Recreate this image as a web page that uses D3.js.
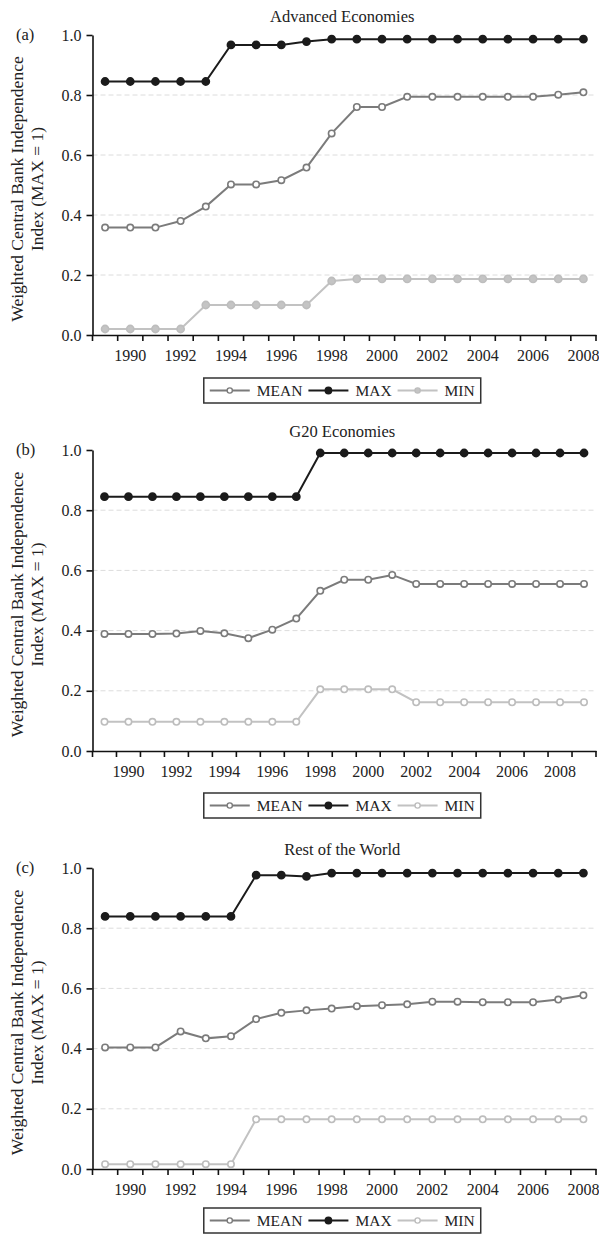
<!DOCTYPE html>
<html>
<head>
<meta charset="utf-8">
<script src="https://cdn.jsdelivr.net/npm/d3@7"></script>
<style>
  body { margin: 0; background: #fff; }
  svg { display: block; font-family: "Liberation Serif", "DejaVu Serif", serif; }
</style>
</head>
<body>
<script>
// Data
var yearsA = [1989,1990,1991,1992,1993,1994,1995,1996,1997,1998,1999,2000,2001,2002,2003,2004,2005,2006,2007,2008];
var yearsB = [1989,1990,1991,1992,1993,1994,1995,1996,1997,1998,1999,2000,2001,2002,2003,2004,2005,2006,2007,2008,2009];
var yearsC = [1989,1990,1991,1992,1993,1994,1995,1996,1997,1998,1999,2000,2001,2002,2003,2004,2005,2006,2007,2008];

var advMean = [0.358,0.358,0.358,0.380,0.428,0.502,0.502,0.516,0.558,0.672,0.760,0.760,0.794,0.794,0.794,0.794,0.794,0.794,0.801,0.809];
var advMax  = [0.845,0.845,0.845,0.845,0.845,0.967,0.967,0.967,0.978,0.986,0.986,0.986,0.986,0.986,0.986,0.986,0.986,0.986,0.986,0.986];
var advMin  = [0.020,0.020,0.020,0.020,0.100,0.100,0.100,0.100,0.100,0.180,0.187,0.187,0.187,0.187,0.187,0.187,0.187,0.187,0.187,0.187];

var g20Mean = [0.389,0.389,0.389,0.390,0.399,0.391,0.375,0.403,0.440,0.532,0.569,0.569,0.585,0.555,0.555,0.555,0.555,0.555,0.555,0.555,0.555];
var g20Max  = [0.845,0.845,0.845,0.845,0.845,0.845,0.845,0.845,0.845,0.990,0.990,0.990,0.990,0.990,0.990,0.990,0.990,0.990,0.990,0.990,0.990];
var g20Min  = [0.097,0.097,0.097,0.097,0.097,0.097,0.097,0.097,0.097,0.205,0.205,0.205,0.205,0.162,0.162,0.162,0.162,0.162,0.162,0.162,0.162];

var rowMean = [0.404,0.404,0.404,0.457,0.434,0.441,0.498,0.519,0.527,0.533,0.541,0.544,0.547,0.556,0.556,0.554,0.554,0.554,0.563,0.577];
var rowMax  = [0.839,0.839,0.839,0.839,0.839,0.839,0.976,0.976,0.972,0.983,0.983,0.983,0.983,0.983,0.983,0.983,0.983,0.983,0.983,0.983];
var rowMin  = [0.016,0.016,0.016,0.016,0.016,0.016,0.165,0.165,0.165,0.165,0.165,0.165,0.165,0.165,0.165,0.165,0.165,0.165,0.165,0.165];

var yTicks = [0, 0.2, 0.4, 0.6, 0.8, 1.0];
var gridTicks = [0.2, 0.4, 0.6, 0.8];
var seriesNames = ["MEAN", "MAX", "MIN"];
var panelTitles = ["Advanced Economies", "G20 Economies", "Rest of the World"];
var panelLetters = ["(a)", "(b)", "(c)"];
var yLabelLines = ["Weighted Central Bank Independence", "Index (MAX = 1)"];

// Layout
var width = 599, height = 1235;
var left = 92.5, right = 596;

var panels = [
  { title: panelTitles[0], letter: panelLetters[0], years: yearsA, mean: advMean, max: advMax, min: advMin, top: 35, bottom: 335, legendTop: 378, minFilled: true },
  { title: panelTitles[1], letter: panelLetters[1], years: yearsB, mean: g20Mean, max: g20Max, min: g20Min, top: 450, bottom: 751, legendTop: 793, minFilled: false },
  { title: panelTitles[2], letter: panelLetters[2], years: yearsC, mean: rowMean, max: rowMax, min: rowMin, top: 868, bottom: 1169, legendTop: 1208, minFilled: false }
];

var style = {
  MEAN: { color: "#7b7b7b", dot: "#7b7b7b", fill: "#fff", r: 3.2 },
  MAX:  { color: "#1b1b1b", dot: "#1b1b1b", fill: "#1b1b1b", r: 3.6 },
  MIN:  { color: "#c2c2c2", dot: "#bdbdbd", fill: "#fff", r: 3.2 }
};

var svg = d3.select("body")
            .append("svg")
            .attr("width", width)
            .attr("height", height);

panels.forEach(function(p) {
  var g = svg.append("g");

  var x = d3.scaleBand()
            .domain(p.years)
            .range([left, right]);

  var y = d3.scaleLinear()
            .domain([0, 1])
            .range([p.bottom, p.top]);

  // gridlines
  g.selectAll(".grid")
   .data(gridTicks)
   .enter()
   .append("line")
   .attr("x1", left)
   .attr("x2", right)
   .attr("y1", function(d) { return y(d); })
   .attr("y2", function(d) { return y(d); })
   .attr("stroke", "#dcdcdc")
   .attr("stroke-width", 1)
   .attr("stroke-dasharray", "5,3");

  // y axis
  var yAxis = d3.axisLeft(y)
                .tickValues(yTicks)
                .tickFormat(d3.format(".1f"))
                .tickSize(6)
                .tickSizeOuter(0)
                .tickPadding(5);
  var ya = g.append("g")
            .attr("transform", "translate(" + left + ",0)")
            .call(yAxis);
  ya.select(".domain").attr("stroke", "#111").attr("stroke-width", 1.6);
  ya.selectAll(".tick line").attr("stroke", "#111").attr("stroke-width", 1.6);
  ya.selectAll(".tick text")
    .attr("font-family", "Liberation Serif")
    .attr("font-size", "16px")
    .attr("fill", "#222");

  // x axis: labels at band centres, ticks on band boundaries
  var xAxis = d3.axisBottom(x)
                .tickSize(0)
                .tickPadding(15)
                .tickFormat(function(d) { return d % 2 === 0 ? d : ""; });
  var xa = g.append("g")
            .attr("transform", "translate(0," + p.bottom + ")")
            .call(xAxis);
  xa.select(".domain").attr("stroke", "#111").attr("stroke-width", 1.6);
  xa.selectAll(".tick text")
    .attr("font-family", "Liberation Serif")
    .attr("font-size", "16px")
    .attr("fill", "#222");

  var bounds = p.years.map(function(d) { return x(d); }).concat([right]);
  g.selectAll(".xtick")
   .data(bounds)
   .enter()
   .append("line")
   .attr("x1", function(d) { return d; })
   .attr("x2", function(d) { return d; })
   .attr("y1", p.bottom)
   .attr("y2", p.bottom + 6)
   .attr("stroke", "#111")
   .attr("stroke-width", 1.6);

  // series
  var series = [
    { name: "MIN", values: p.min },
    { name: "MEAN", values: p.mean },
    { name: "MAX", values: p.max }
  ];

  var line = d3.line()
               .x(function(d) { return x(d.year) + x.bandwidth() / 2; })
               .y(function(d) { return y(d.v); });

  series.forEach(function(s) {
    var pts = s.values.map(function(v, i) { return { year: p.years[i], v: v }; });
    var st = style[s.name];
    g.append("path")
     .datum(pts)
     .attr("d", line)
     .attr("fill", "none")
     .attr("stroke", st.color)
     .attr("stroke-width", 2);
    g.selectAll(".dot-" + s.name)
     .data(pts)
     .enter()
     .append("circle")
     .attr("cx", function(d) { return x(d.year) + x.bandwidth() / 2; })
     .attr("cy", function(d) { return y(d.v); })
     .attr("r", s.name === "MIN" && p.minFilled ? 3.6 : st.r)
     .attr("fill", s.name === "MIN" && p.minFilled ? "#c4c4c4" : st.fill)
     .attr("stroke", st.dot)
     .attr("stroke-width", 1.6);
  });

  // title and panel letter
  var cx = (left + right) / 2;
  g.append("text")
   .attr("x", cx - 2)
   .attr("y", p.top - 13)
   .attr("text-anchor", "middle")
   .attr("font-size", "16.5px")
   .attr("fill", "#222")
   .text(p.title);

  g.append("text")
   .attr("x", 16)
   .attr("y", p.top + 5)
   .attr("font-size", "16.5px")
   .attr("fill", "#222")
   .text(p.letter);

  // y label, two lines
  var midY = (p.top + p.bottom) / 2 + 4;
  yLabelLines.forEach(function(t, i) {
    g.append("text")
     .attr("transform", "translate(" + (23 + i * 20) + "," + midY + ") rotate(-90)")
     .attr("text-anchor", "middle")
     .attr("font-size", "17.5px")
     .attr("fill", "#222")
     .text(t);
  });

  // legend
  var lg = g.append("g");
  var box = lg.append("rect")
              .attr("y", p.legendTop)
              .attr("height", 25)
              .attr("fill", "#fff")
              .attr("stroke", "#333")
              .attr("stroke-width", 1.5);
  var lx = 0;
  var items = [];
  seriesNames.forEach(function(name, i) {
    var st = style[name];
    var ig = lg.append("g");
    ig.append("line")
      .attr("x1", lx).attr("x2", lx + 40)
      .attr("y1", p.legendTop + 12.5).attr("y2", p.legendTop + 12.5)
      .attr("stroke", st.color)
      .attr("stroke-width", 2);
    var filledMin = name === "MIN" && p.minFilled;
    ig.append("circle")
      .attr("cx", lx + 20)
      .attr("cy", p.legendTop + 12.5)
      .attr("r", name === "MAX" ? 3.2 : 2.6)
      .attr("fill", filledMin ? "#c4c4c4" : st.fill)
      .attr("stroke", st.dot)
      .attr("stroke-width", 1.4);
    var tx = ig.append("text")
               .attr("x", lx + 47)
               .attr("y", p.legendTop + 18)
               .attr("font-size", "15.5px")
               .attr("fill", "#222")
               .text(name);
    lx += 47 + tx.node().getComputedTextLength() + 6;
  });
  var total = lx - 6;
  var startX = cx - total / 2 - 2;
  lg.selectAll("g").attr("transform", "translate(" + startX + ",0)");
  box.attr("x", startX - 6).attr("width", total + 12);
});
</script>
</body>
</html>
